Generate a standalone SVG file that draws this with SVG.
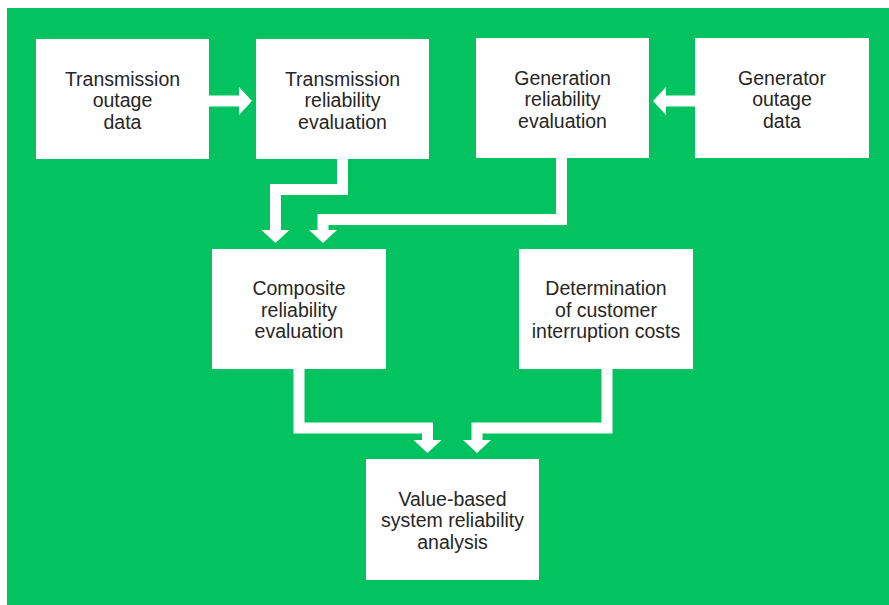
<svg xmlns="http://www.w3.org/2000/svg" width="889" height="605" viewBox="0 0 889 605">
<defs>
<style>
.box{fill:#ffffff}
.t{font-family:"Liberation Sans",Arial,Helvetica,sans-serif;font-size:19.5px;fill:#262626;text-anchor:middle}
.c{fill:none;stroke:#ffffff;stroke-width:11;stroke-linejoin:miter;stroke-linecap:butt}
</style>
<marker id="ah" viewBox="0 0 13 28" markerWidth="13" markerHeight="28" refX="0" refY="14" orient="auto" markerUnits="userSpaceOnUse">
<path d="M0,0 L13,14 L0,28 Z" fill="#ffffff"/>
</marker>
</defs>
<rect x="0" y="0" width="889" height="605" fill="#ffffff"/>
<rect x="7" y="8" width="882" height="597" fill="#03C361"/>
<g id="connectors">
<path class="c" d="M209,101 H239" marker-end="url(#ah)"/>
<path class="c" d="M696,101 H666" marker-end="url(#ah)"/>
<path class="c" d="M342.5,158 V189.5 H275.5 V230" marker-end="url(#ah)"/>
<path class="c" d="M561.5,157 V219.5 H323 V230" marker-end="url(#ah)"/>
<path class="c" d="M299,368 V428 H427.5 V440" marker-end="url(#ah)"/>
<path class="c" d="M607,368 V428 H477 V440" marker-end="url(#ah)"/>
</g>
<g id="n1">
<rect class="box" x="36" y="39" width="173" height="120"/>
<text class="t" x="122.5" y="85.5">Transmission</text>
<text class="t" x="122.5" y="107">outage</text>
<text class="t" x="122.5" y="128.5">data</text>
</g>
<g id="n2">
<rect class="box" x="256" y="39" width="173" height="120"/>
<text class="t" x="342.5" y="85.5">Transmission</text>
<text class="t" x="342.5" y="107">reliability</text>
<text class="t" x="342.5" y="128.5">evaluation</text>
</g>
<g id="n3">
<rect class="box" x="476" y="38" width="173" height="120"/>
<text class="t" x="562.5" y="84.5">Generation</text>
<text class="t" x="562.5" y="106">reliability</text>
<text class="t" x="562.5" y="127.5">evaluation</text>
</g>
<g id="n4">
<rect class="box" x="695" y="38" width="174" height="120"/>
<text class="t" x="782" y="84.5">Generator</text>
<text class="t" x="782" y="106">outage</text>
<text class="t" x="782" y="127.5">data</text>
</g>
<g id="n5">
<rect class="box" x="212" y="249" width="174" height="120"/>
<text class="t" x="299" y="295">Composite</text>
<text class="t" x="299" y="316.5">reliability</text>
<text class="t" x="299" y="338">evaluation</text>
</g>
<g id="n6">
<rect class="box" x="519" y="249" width="174" height="120"/>
<text class="t" x="606" y="295">Determination</text>
<text class="t" x="606" y="316.5">of customer</text>
<text class="t" x="606" y="338">interruption costs</text>
</g>
<g id="n7">
<rect class="box" x="366" y="459" width="173" height="121"/>
<text class="t" x="452.5" y="505.5">Value-based</text>
<text class="t" x="452.5" y="527">system reliability</text>
<text class="t" x="452.5" y="548.5">analysis</text>
</g>
</svg>
